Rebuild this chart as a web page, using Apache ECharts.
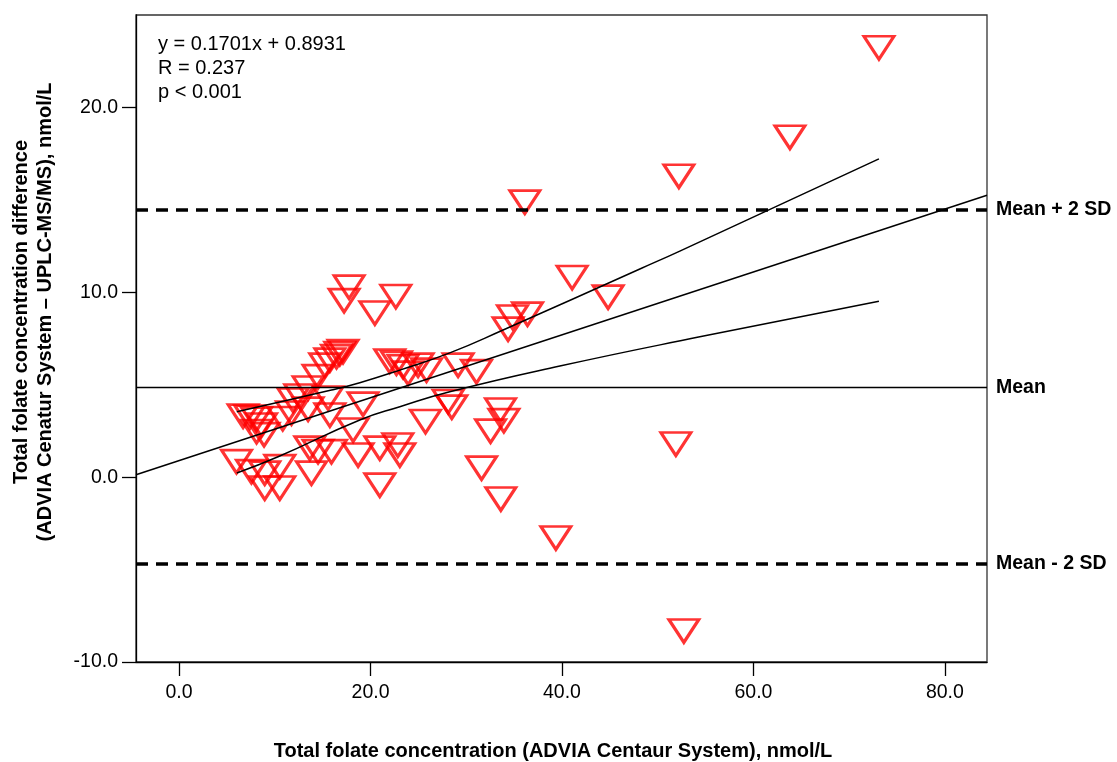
<!DOCTYPE html>
<html>
<head>
<meta charset="utf-8">
<title>Total folate – difference plot</title>
<script src="https://cdn.jsdelivr.net/npm/echarts@6/dist/echarts.min.js"></script>
<style>
  html, body { margin: 0; padding: 0; background: #fff; }
  #chart { width: 1117px; height: 762px; }
</style>
</head>
<body>
<div id="chart"></div>
<script>
// ADVIA Centaur concentration (x) and ADVIA − UPLC-MS/MS difference (y), nmol/L
const concentration = [
  73.11, 63.81, 52.21, 36.12, 41.06, 44.82, 34.83, 36.40, 34.37, 51.90,
  52.73, 39.36, 33.61, 29.15, 31.07, 28.11, 28.49, 25.74, 33.58, 33.93,
  32.54, 31.60, 17.76, 17.24, 22.64, 20.45, 17.13, 16.79, 16.45, 15.75,
  15.22, 14.52, 13.48, 11.91, 12.61, 22.01, 22.71, 23.40, 23.93, 24.97,
  25.85, 19.22, 15.57, 6.69, 7.39, 8.09, 8.61, 8.09, 8.88, 11.74,
  10.83, 13.48, 15.75, 18.18, 13.66, 14.52, 15.92, 13.83, 6.00, 7.56,
  8.95, 10.52, 8.95, 10.52, 18.70, 20.97, 22.85, 23.06, 20.97
];
const difference = [
  23.23, 18.39, 16.28, 14.88, 10.80, 9.74, 8.66, 8.82, 8.01, 1.79,
  -8.32, -3.29, -1.18, 6.06, 5.71, 4.09, 3.79, 3.01, 3.63, 3.06,
  2.49, 0.49, 10.28, 9.55, 9.77, 8.88, 6.79, 6.68, 6.52, 6.33,
  6.06, 5.44, 4.82, 4.17, 4.39, 6.28, 6.17, 5.98, 5.63, 6.06,
  5.79, 3.95, 4.28, 3.30, 3.25, 3.14, 2.82, 2.47, 2.30, 3.47,
  3.17, 3.68, 3.36, 2.55, 1.57, 1.38, 1.38, 0.22, 0.84, 0.30,
  0.22, 0.57, -0.59, -0.59, 1.20, 1.57, 1.74, 1.20, -0.43
];

// Regression y = 0.1701x + 0.8931 and its 95% confidence band
const slope = 0.1701;
const intercept = 0.8931;
const upperBandX = [6.03, 15.92, 18.88, 23.06, 28.28, 33.85, 48.31, 52.31, 73.11];
const upperBandY = [3.54, 4.71, 5.11, 5.79, 6.72, 7.96, 11.30, 12.23, 17.22];
const lowerBandX = [6.03, 10.34, 18.88, 23.06, 28.28, 39.78, 54.40, 73.11];
const lowerBandY = [0.22, 1.10, 3.09, 3.81, 4.62, 6.01, 7.59, 9.52];

// Agreement limits
const meanDiff = 4.86;
const upperLimit = 14.48;
const lowerLimit = -4.70;

// Axis extents and tick values
const xMin = -4.5, xMax = 84.4;
const yMin = -10, yMax = 25;
const xTicks = [0, 20, 40, 60, 80];
const yTicks = [-10, 0, 10, 20];

const statsLines = ['y = 0.1701x + 0.8931', 'R = 0.237', 'p < 0.001'];
const xTitle = 'Total folate concentration (ADVIA Centaur System), nmol/L';
const yTitle = 'Total folate concentration difference\n(ADVIA Cenatur System – UPLC-MS/MS), nmol/L';

const FONT = '"Liberation Sans", Arial, Helvetica, sans-serif';

const zip = (a, b) => a.map((v, i) => [v, b[i]]);

const chart = echarts.init(document.getElementById('chart'), null, { renderer: 'canvas' });

const axisCommon = {
  type: 'value',
  axisLine: { show: true, onZero: false, lineStyle: { color: '#000', width: 1.3 } },
  axisTick: { show: true, length: 14, lineStyle: { color: '#000', width: 1.3 } },
  splitLine: { show: false },
  axisLabel: {
    color: '#000', fontFamily: FONT, fontSize: 19.5,
    formatter: v => v.toFixed(1)
  }
};

const limitLine = (value, name, dashed) => ({
  yAxis: value,
  lineStyle: dashed
    ? { color: '#000', width: 3.5, type: [12, 8] }
    : { color: '#000', width: 1.4, type: 'solid' },
  label: {
    show: true, position: 'end', distance: 9, formatter: name,
    color: '#000', fontFamily: FONT, fontSize: 19.5, fontWeight: 'bold'
  }
});

chart.setOption({
  animation: false,
  backgroundColor: '#fff',
  grid: {
    left: 136, top: 15, right: 130, bottom: 100,
    show: true, borderColor: '#333', borderWidth: 1.3, backgroundColor: 'transparent'
  },
  xAxis: Object.assign({}, axisCommon, {
    min: xMin, max: xMax,
    axisTick: Object.assign({}, axisCommon.axisTick, { customValues: xTicks }),
    axisLabel: Object.assign({}, axisCommon.axisLabel, { customValues: xTicks, margin: 21 })
  }),
  yAxis: Object.assign({}, axisCommon, {
    min: yMin, max: yMax,
    axisTick: Object.assign({}, axisCommon.axisTick, { customValues: yTicks }),
    axisLabel: Object.assign({}, axisCommon.axisLabel, { customValues: yTicks, margin: 18 })
  }),
  series: [
    {
      name: 'Difference',
      type: 'scatter',
      z: 2,
      symbol: 'triangle',
      symbolRotate: 180,
      symbolSize: [30, 23],
      itemStyle: { color: 'rgba(0,0,0,0)', borderColor: '#ff0000', borderWidth: 3 },
      data: zip(concentration, difference),
      markLine: {
        silent: true,
        symbol: ['none', 'none'],
        z: 3,
        data: [
          limitLine(upperLimit, 'Mean + 2 SD', true),
          limitLine(meanDiff, 'Mean', false),
          limitLine(lowerLimit, 'Mean - 2 SD', true)
        ]
      }
    },
    {
      name: 'Fit',
      type: 'line',
      z: 4,
      symbol: 'none',
      lineStyle: { color: '#000', width: 1.5 },
      data: [[xMin, slope * xMin + intercept], [xMax, slope * xMax + intercept]]
    },
    {
      name: 'Upper 95% CI',
      type: 'line',
      z: 4,
      symbol: 'none',
      smooth: 0.5,
      lineStyle: { color: '#000', width: 1.5 },
      data: zip(upperBandX, upperBandY)
    },
    {
      name: 'Lower 95% CI',
      type: 'line',
      z: 4,
      symbol: 'none',
      smooth: 0.5,
      lineStyle: { color: '#000', width: 1.5 },
      data: zip(lowerBandX, lowerBandY)
    }
  ],
  graphic: [
    ...statsLines.map((t, i) => ({
      type: 'text',
      x: 158, y: 44 + i * 24.3,
      style: {
        text: t, fill: '#000', font: '20px ' + FONT,
        textAlign: 'left', textVerticalAlign: 'middle'
      }
    })),
    {
      type: 'text',
      x: 553, y: 751,
      style: {
        text: xTitle, fill: '#000', font: 'bold 20px ' + FONT,
        textAlign: 'center', textVerticalAlign: 'middle'
      }
    },
    {
      type: 'text',
      x: 33, y: 312,
      rotation: Math.PI / 2,
      style: {
        text: yTitle, fill: '#000', font: 'bold 20px ' + FONT,
        textAlign: 'center', textVerticalAlign: 'middle', lineHeight: 24
      }
    }
  ]
});
</script>
</body>
</html>
